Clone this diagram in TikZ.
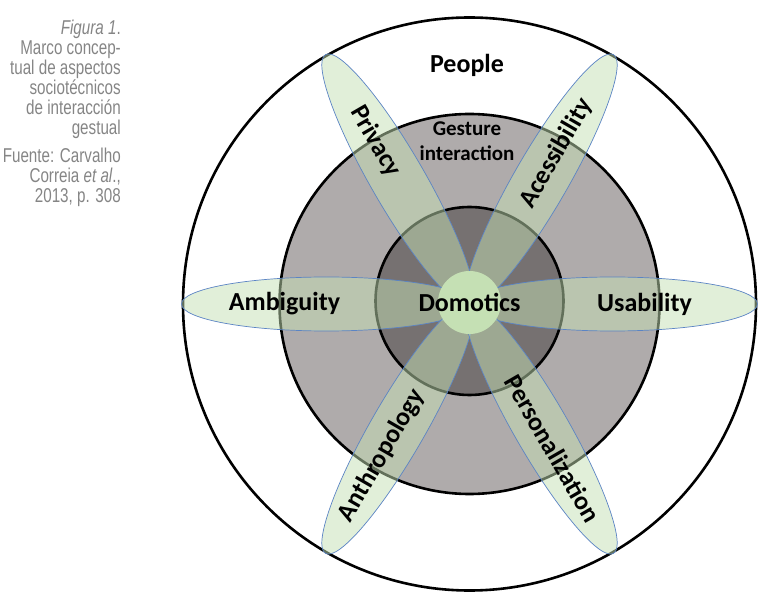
\documentclass[tikz,border=0pt]{standalone}
\usepackage{fontspec}
\usetikzlibrary{calc}
\setmainfont{Carlito}
\newfontfamily\capfont[FakeStretch=0.76]{Liberation Sans}
\definecolor{midgray}{HTML}{AFABAB}
\definecolor{dkgray}{HTML}{767171}
\definecolor{petalgreen}{HTML}{C5E0B4}
\definecolor{petalline}{HTML}{5B84C4}
\definecolor{capgray}{HTML}{858585}
\begin{document}
\begin{tikzpicture}[x=1pt,y=1pt,
  ring/.style={draw=black, line width=2.6pt},
  petal/.style={draw=petalline, line width=0.7pt, fill=petalgreen, fill opacity=0.5},
  lbl/.style={font=\fontsize{26}{30}\selectfont\bfseries, inner sep=0pt},
  smalllbl/.style={font=\fontsize{21}{25}\selectfont\bfseries, inner sep=0pt, align=center},
  captxt/.style={font=\capfont\fontsize{20}{20}\selectfont, text=capgray, anchor=base east, inner sep=0pt}]
\useasboundingbox (0,0) rectangle (773,608);
\coordinate (C) at (469.5,304);
\coordinate (Ci) at (469.5,307);
\coordinate (Cd) at (469.5,305.5);
% rings
\draw[ring, fill=white] (C) circle (286.5);
\draw[ring, fill=midgray] (C) circle (190);
\draw[ring, fill=dkgray] (Ci) circle (94);
% petals
\foreach \a in {0,60,...,300}{
  \begin{scope}[shift={(C)}, rotate=\a]
    \draw[petal] (143,0) ellipse [x radius=145, y radius=27];
  \end{scope}
}
% centre
\fill[petalgreen] (Cd) circle (31.5);
\node[lbl] (dom) at ([yshift=0.5pt]Cd) {Domotics};
\node[lbl] (people) at (467,543) {People};
\node[smalllbl] (gesture) at (467,467) {Gesture\\interaction};
\node[lbl, rotate=-60] (privacy) at ($(C)+(120:188)$) {Privacy};
\node[lbl, rotate=60] (access) at ($(C)+(60:174)$) {Acessibility};
\node[lbl] (ambig) at ($(C)+(180:185)$) {Ambiguity};
\node[lbl] (usab) at ($(C)+(0:175)$) {Usability};
\node[lbl, rotate=60] (anthro) at ($(C)+(240:175)$) {Anthropology};
\node[lbl, rotate=-60] (perso) at ($(C)+(300:167)$) {Personalization};
% caption
\node[captxt] (c1) at (121,573) {\itshape Figura 1\upshape.};
\node[captxt] (c2) at (121,553) {Marco concep-};
\node[captxt] (c3) at (121,533) {tual de aspectos};
\node[captxt] (c4) at (121,513) {sociotécnicos};
\node[captxt] (c5) at (121,493) {de interacción};
\node[captxt] (c6) at (121,473) {gestual};
\node[captxt] (c7) at (121,445) {Fuente: Carvalho};
\node[captxt] (c8) at (121,425) {Correia \itshape et al\upshape.,};
\node[captxt] (c9) at (121,405) {2013, p. 308};
\end{tikzpicture}
\end{document}
